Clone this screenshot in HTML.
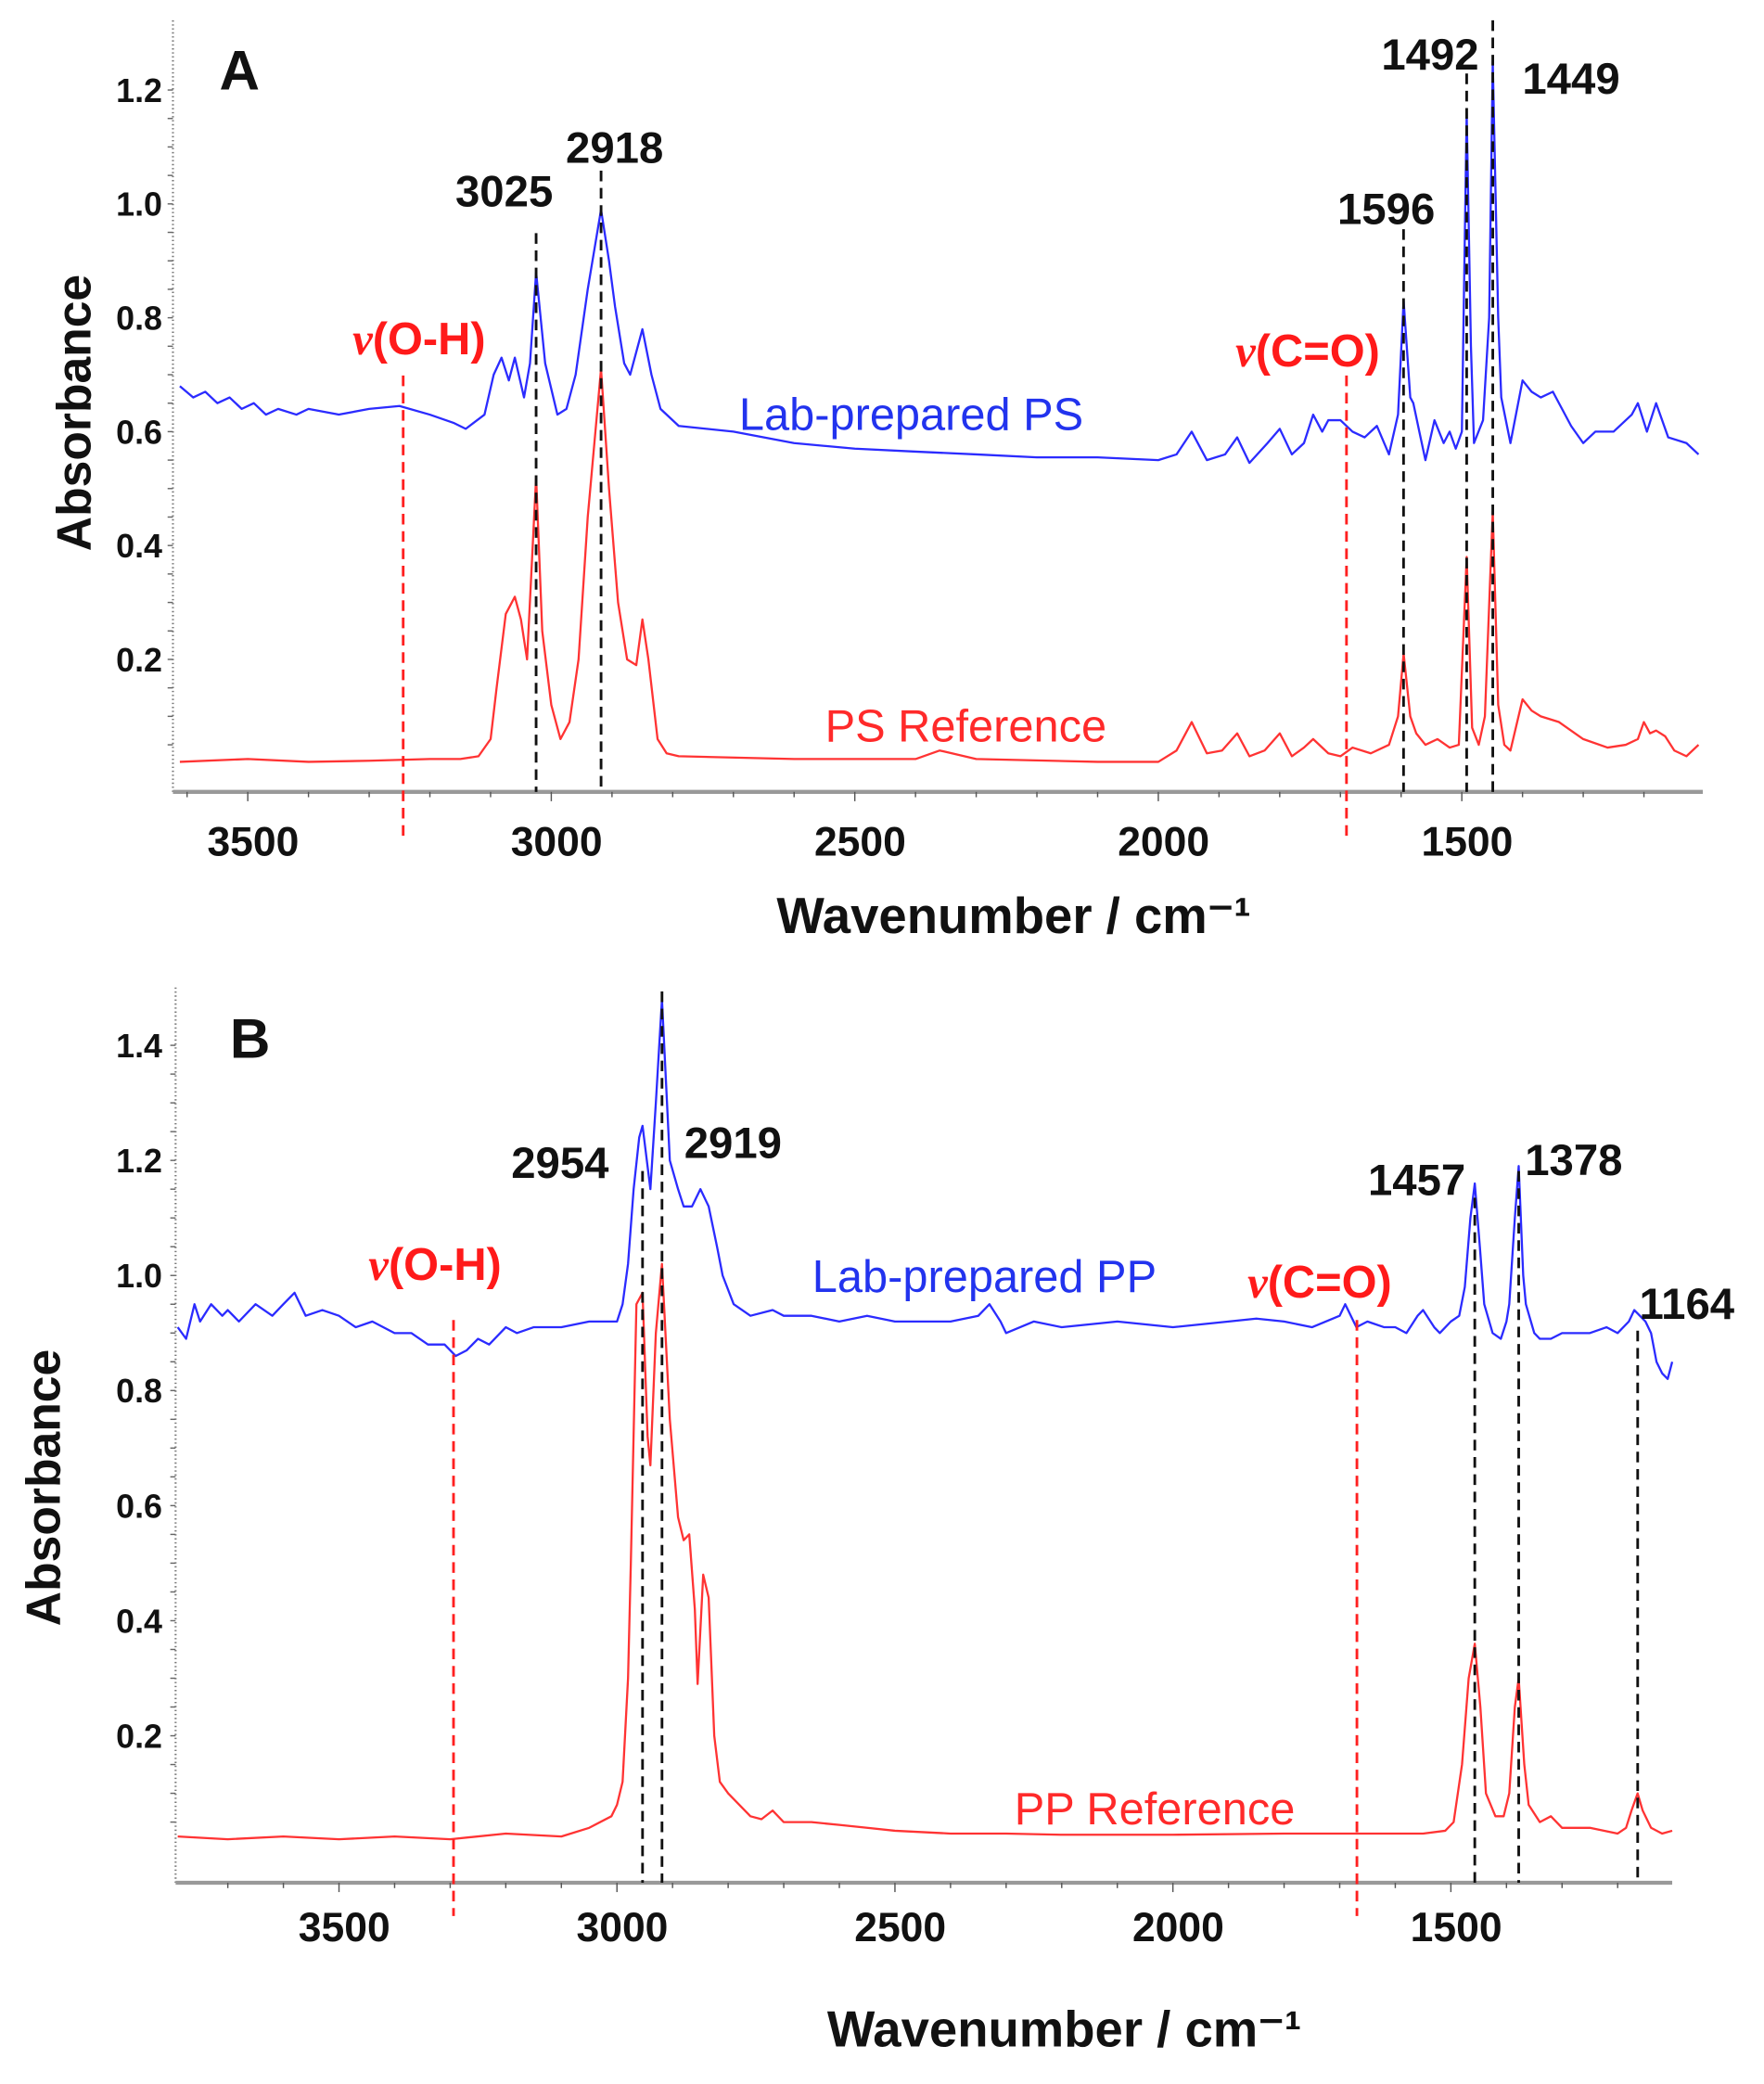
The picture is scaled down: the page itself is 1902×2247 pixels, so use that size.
<!DOCTYPE html>
<html><head><meta charset="utf-8"><style>
html,body{margin:0;padding:0;background:#fff}
svg{display:block}
text{font-family:"Liberation Sans",Arial,sans-serif}
</style></head><body>
<svg id="fig" width="1902" height="2247" viewBox="0 0 1326 1566" xmlns="http://www.w3.org/2000/svg"></svg>
<script>
// ---------- Panel A data ----------
const psLabWn = [3612,3590,3570,3550,3530,3510,3490,3470,3450,3420,3400,3350,3300,3250,3200,3160,3141,3110,3095,3082,3070,3060,3045,3035,3025,3010,2990,2975,2960,2940,2918,2905,2895,2880,2870,2850,2835,2820,2790,2700,2600,2500,2400,2300,2200,2100,2000,1970,1945,1920,1890,1870,1850,1820,1800,1780,1760,1745,1730,1720,1700,1680,1660,1640,1620,1605,1596,1585,1580,1570,1560,1545,1530,1520,1510,1500,1492,1485,1480,1465,1455,1449,1440,1435,1420,1400,1385,1370,1350,1320,1300,1280,1250,1220,1210,1195,1180,1160,1130,1110];
const psLabA  = [0.68,0.66,0.67,0.65,0.66,0.64,0.65,0.63,0.64,0.63,0.64,0.63,0.64,0.645,0.63,0.615,0.605,0.63,0.7,0.73,0.69,0.73,0.66,0.72,0.88,0.72,0.63,0.64,0.7,0.85,0.99,0.9,0.82,0.72,0.70,0.78,0.7,0.64,0.61,0.60,0.58,0.57,0.565,0.56,0.555,0.555,0.55,0.56,0.60,0.55,0.56,0.59,0.545,0.58,0.605,0.56,0.58,0.63,0.6,0.62,0.62,0.60,0.59,0.61,0.56,0.63,0.83,0.66,0.65,0.60,0.55,0.62,0.58,0.60,0.57,0.60,1.16,0.75,0.58,0.62,0.80,1.25,0.80,0.66,0.58,0.69,0.67,0.66,0.67,0.61,0.58,0.60,0.60,0.63,0.65,0.60,0.65,0.59,0.58,0.56];
const psRefWn = [3612,3500,3400,3300,3200,3150,3120,3100,3090,3075,3060,3050,3040,3025,3015,3000,2985,2970,2955,2940,2918,2905,2890,2875,2860,2850,2840,2825,2810,2790,2600,2400,2360,2340,2300,2100,2000,1970,1945,1920,1895,1870,1850,1825,1800,1780,1760,1745,1720,1700,1680,1650,1620,1605,1596,1585,1575,1560,1540,1520,1505,1492,1483,1472,1462,1449,1440,1430,1420,1400,1385,1370,1340,1300,1260,1230,1210,1200,1190,1180,1165,1150,1130,1110];
const psRefA  = [0.02,0.025,0.02,0.022,0.025,0.025,0.03,0.06,0.15,0.28,0.31,0.27,0.2,0.52,0.25,0.12,0.06,0.09,0.2,0.45,0.71,0.5,0.3,0.2,0.19,0.27,0.2,0.06,0.035,0.03,0.025,0.025,0.04,0.035,0.025,0.02,0.02,0.04,0.09,0.035,0.04,0.07,0.03,0.04,0.07,0.03,0.045,0.06,0.035,0.03,0.045,0.035,0.05,0.1,0.21,0.1,0.07,0.05,0.06,0.045,0.05,0.38,0.08,0.05,0.1,0.46,0.12,0.05,0.04,0.13,0.11,0.1,0.09,0.06,0.045,0.05,0.06,0.09,0.07,0.075,0.065,0.04,0.03,0.05];
const psPeaks = [3025,2918,1596,1492,1449];
const psPeakTop = [175,128,172,55,15];
const psPeakLbl = ["3025","2918","1596","1492","1449"];
// ---------- Panel B data ----------
const ppLabWn = [3790,3775,3760,3750,3730,3710,3700,3680,3650,3620,3600,3580,3560,3530,3500,3470,3440,3400,3370,3340,3310,3290,3270,3250,3230,3210,3200,3180,3150,3100,3050,3000,2990,2980,2970,2960,2954,2940,2930,2919,2905,2890,2880,2865,2850,2835,2820,2810,2790,2760,2720,2700,2650,2600,2550,2500,2450,2400,2350,2330,2310,2300,2250,2200,2100,2000,1900,1850,1800,1750,1700,1690,1670,1650,1620,1600,1580,1560,1550,1530,1520,1500,1485,1475,1465,1457,1448,1440,1425,1410,1400,1395,1385,1378,1370,1365,1350,1340,1320,1300,1280,1250,1220,1200,1180,1170,1160,1150,1140,1130,1120,1110,1102];
const ppLabA  = [0.91,0.89,0.95,0.92,0.95,0.93,0.94,0.92,0.95,0.93,0.95,0.97,0.93,0.94,0.93,0.91,0.92,0.9,0.9,0.88,0.88,0.86,0.87,0.89,0.88,0.9,0.91,0.9,0.91,0.91,0.92,0.92,0.95,1.02,1.15,1.24,1.26,1.15,1.3,1.48,1.2,1.15,1.12,1.12,1.15,1.12,1.05,1.0,0.95,0.93,0.94,0.93,0.93,0.92,0.93,0.92,0.92,0.92,0.93,0.95,0.92,0.9,0.92,0.91,0.92,0.91,0.92,0.925,0.92,0.91,0.93,0.95,0.91,0.92,0.91,0.91,0.9,0.93,0.94,0.91,0.9,0.92,0.93,0.98,1.1,1.16,1.05,0.95,0.9,0.89,0.92,0.95,1.1,1.19,1.0,0.95,0.9,0.89,0.89,0.9,0.9,0.9,0.91,0.9,0.92,0.94,0.93,0.92,0.9,0.85,0.83,0.82,0.85];
const ppRefWn = [3790,3700,3600,3500,3400,3300,3200,3100,3050,3010,3000,2990,2980,2975,2965,2954,2945,2940,2930,2919,2905,2890,2880,2870,2860,2855,2845,2835,2825,2815,2800,2780,2760,2740,2720,2700,2650,2600,2550,2500,2400,2300,2200,2000,1800,1700,1600,1550,1510,1495,1480,1468,1457,1447,1437,1420,1405,1395,1385,1378,1368,1360,1340,1320,1300,1250,1200,1185,1175,1164,1155,1140,1120,1102];
const ppRefA  = [0.025,0.02,0.025,0.02,0.025,0.02,0.03,0.025,0.04,0.06,0.08,0.12,0.3,0.5,0.95,0.97,0.72,0.67,0.9,1.02,0.75,0.58,0.54,0.55,0.42,0.29,0.48,0.44,0.2,0.12,0.1,0.08,0.06,0.055,0.07,0.05,0.05,0.045,0.04,0.035,0.03,0.03,0.028,0.028,0.03,0.03,0.03,0.03,0.035,0.05,0.15,0.3,0.36,0.25,0.1,0.06,0.06,0.1,0.25,0.3,0.15,0.08,0.05,0.06,0.04,0.04,0.03,0.04,0.07,0.1,0.07,0.04,0.03,0.035];
const ppPeaks = [2954,2919,1457,1378,1164];
const ppPeakTop = [880,745,900,880,1000];
const ppPeakLbl = ["2954","2919","1457","1378","1164"];

const NS="http://www.w3.org/2000/svg";
const svg=document.getElementById('fig');
function mk(tag,attrs,parent){const e=document.createElementNS(NS,tag);for(const k in attrs)e.setAttribute(k,attrs[k]);(parent||svg).appendChild(e);return e;}
function txt(s,x,y,size,fill,anchor,weight,parent){const t=mk('text',{x:x,y:y,'font-size':size,fill:fill,'text-anchor':anchor||'middle','font-weight':weight||'bold'},parent);t.textContent=s;return t;}

const panels=[
 {id:'a',xL:130,xR:1280,yT:15,yB:595,x:w=>403+(3025-w)*0.4563,y:a=>581-a*428,yTicks:[0.2,0.4,0.6,0.8,1.0,1.2],
  letter:'A',lx:180,ly:67,xlabY:643,titleX:762,titleY:701,ytitleX:68,ytitleY:310,
  lab:[psLabWn,psLabA],ref:[psRefWn,psRefA],peaks:psPeaks,tops:psPeakTop,lbls:psPeakLbl,
  lblPos:[[379,155],[462,122],[1042,168],[1075,52],[1181,70]],
  oh:3244,co:1690,redY:[282,632],ohL:[315,266],coL:[983,275],
  labTxt:['Lab-prepared PS',685,323],refTxt:['PS Reference',726,557]},
 {id:'b',xL:132,xR:1257,yT:742,yB:1415,x:w=>483+(2954-w)*0.4179,y:a=>1391-a*432.5,yTicks:[0.2,0.4,0.6,0.8,1.0,1.2,1.4],
  letter:'B',lx:188,ly:795,xlabY:1459,titleX:800,titleY:1538,ytitleX:45,ytitleY:1118,
  lab:[ppLabWn,ppLabA],ref:[ppRefWn,ppRefA],peaks:ppPeaks,tops:ppPeakTop,lbls:ppPeakLbl,
  lblPos:[[421,885],[551,870],[1065,898],[1183,883],[1268,991]],
  oh:3294,co:1669,redY:[992,1440],ohL:[327,962],coL:[992,975],
  labTxt:['Lab-prepared PP',740,971],refTxt:['PP Reference',868,1371]}
];

panels.forEach(p=>{
  const g=mk('g',{});
  
  
  const ya=mk('line',{x1:p.xL,y1:p.yT,x2:p.xL,y2:p.yB,stroke:'#777','stroke-width':1.5,'stroke-dasharray':'1 2'},g);
  
  
  const xa=mk('line',{x1:p.xL,y1:p.yB,x2:p.xR,y2:p.yB,stroke:'#999','stroke-width':3},g);
  
  
  for(let w=3800;w>=1100;w-=100){const xx=p.x(w);if(xx<p.xL||xx>p.xR)continue;
    mk('line',{x1:xx,y1:p.yB,x2:xx,y2:p.yB+(w%500===0?7:4),stroke:'#555','stroke-width':1},g);}
  [3500,3000,2500,2000,1500].forEach(w=>{
    const t=txt(String(w),p.x(w)+4,p.xlabY,31,'#111','middle','bold',g);
    
    
  });
  for(let a=0.05;a<=p.yTicks[p.yTicks.length-1]+0.05;a+=0.05){const yy=p.y(a);if(yy<p.yT)continue;
    mk('line',{x1:p.xL-4,y1:yy,x2:p.xL,y2:yy,stroke:'#666','stroke-width':1},g);}
  p.yTicks.forEach(a=>{
    const t=txt(a.toFixed(1),122,p.y(a)+9,25,'#111','end','bold',g);
    
    
  });
  const xt=txt('Wavenumber / cm\u207B\u00B9',p.titleX,p.titleY,38,'#111','middle','bold',g);
  
  
  const yt=txt('Absorbance',p.ytitleX,p.ytitleY,36,'#111','middle','bold',g);
  yt.setAttribute('transform','rotate(-90 '+p.ytitleX+' '+p.ytitleY+')');
  
  
  const lt=txt(p.letter,p.lx,p.ly,42,'#111','middle','bold',g);
  
  
  const line=(wn,ab,col,name)=>{const pts=wn.map((w,i)=>p.x(w).toFixed(1)+','+p.y(ab[i]).toFixed(1)).join(' ');
    const pl=mk('polyline',{points:pts,fill:'none',stroke:col,'stroke-width':1.6,'stroke-linejoin':'round'},g);
    
    };
  line(p.ref[0],p.ref[1],'#ff3333','reference-spectrum');
  line(p.lab[0],p.lab[1],'#2b2bff','lab-prepared-spectrum');
  [[p.oh,p.ohL,'\u03BD(O-H)'],[p.co,p.coL,'\u03BD(C=O)']].forEach(([w,lp,s])=>{
    const l=mk('line',{x1:p.x(w),y1:p.redY[0],x2:p.x(w),y2:p.redY[1],stroke:'#ff2020','stroke-width':2,'stroke-dasharray':'8 5'},g);
    
    
    const t=mk('text',{x:lp[0],y:lp[1],'font-size':34,fill:'#ff1a1a','text-anchor':'middle','font-weight':'bold'},g);
    const v=mk('tspan',{'font-family':'Liberation Serif,serif','font-style':'italic'},t);v.textContent='\u03BD';
    const r=mk('tspan',{},t);r.textContent=s.slice(1);
    
    
  });
  p.peaks.forEach((w,i)=>{
    const l=mk('line',{x1:p.x(w),y1:p.tops[i],x2:p.x(w),y2:p.yB,stroke:'#111','stroke-width':2,'stroke-dasharray':'8 5'},g);
    
    
    const t=txt(p.lbls[i],p.lblPos[i][0],p.lblPos[i][1],33,'#111','middle','bold',g);
    
    
  });
  const t1=txt(p.labTxt[0],p.labTxt[1],p.labTxt[2],34,'#2233ee','middle','normal',g);
  
  
  const t2=txt(p.refTxt[0],p.refTxt[1],p.refTxt[2],34,'#ff2a2a','middle','normal',g);
  
  
});
</script>
</body></html>
